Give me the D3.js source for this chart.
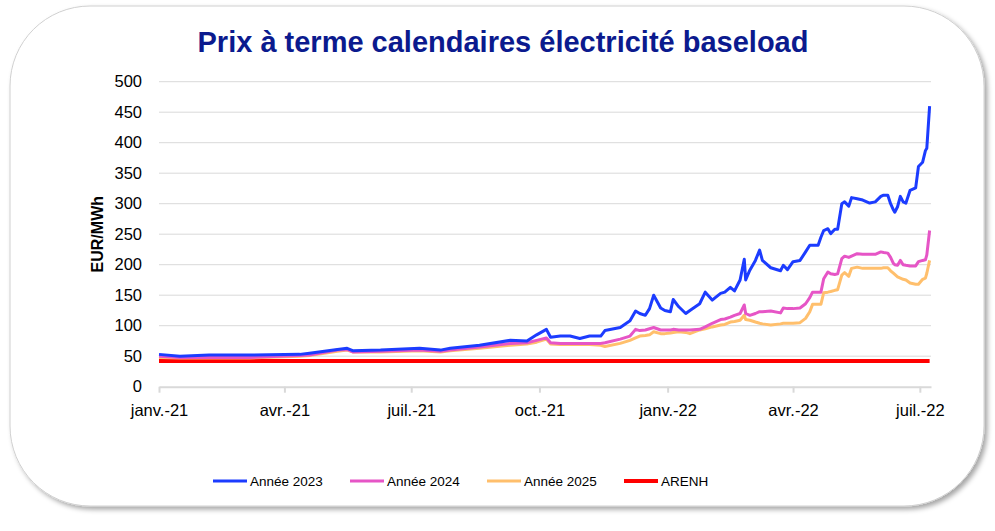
<!DOCTYPE html>
<html>
<head>
<meta charset="utf-8">
<script src="https://cdn.jsdelivr.net/npm/d3@7"></script>
<style>
  html, body { margin: 0; padding: 0; background: #fff; }
  svg { display: block; }
</style>
</head>
<body>
<svg id="chart" width="995" height="531"></svg>
<script>
// dates de cotation (échantillon)
const dates = [
  "2021-01-01","2021-01-16","2021-02-06","2021-03-07","2021-04-12","2021-04-19","2021-05-09","2021-05-16",
  "2021-05-20","2021-06-09","2021-07-07","2021-07-22","2021-07-29","2021-08-19","2021-09-10","2021-09-22",
  "2021-09-29","2021-10-06","2021-10-09","2021-10-16","2021-10-23","2021-10-30","2021-11-06","2021-11-14",
  "2021-11-17","2021-11-28","2021-12-05","2021-12-09","2021-12-12","2021-12-16","2021-12-19","2021-12-22",
  "2021-12-27","2021-12-30","2022-01-03","2022-01-05","2022-01-09","2022-01-14","2022-01-17","2022-01-24",
  "2022-01-28","2022-02-02","2022-02-08","2022-02-11","2022-02-15","2022-02-18","2022-02-22","2022-02-25",
  "2022-02-26","2022-03-01","2022-03-05","2022-03-08","2022-03-10","2022-03-16","2022-03-23","2022-03-25",
  "2022-03-28","2022-04-01","2022-04-06","2022-04-10","2022-04-13","2022-04-15","2022-04-19","2022-04-21",
  "2022-04-23","2022-04-26","2022-04-28","2022-05-01","2022-05-03","2022-05-06","2022-05-08","2022-05-11",
  "2022-05-13","2022-05-17","2022-05-21","2022-05-26","2022-05-30","2022-06-03","2022-06-05","2022-06-08",
  "2022-06-10","2022-06-12","2022-06-13","2022-06-15","2022-06-17","2022-06-19","2022-06-21","2022-06-24",
  "2022-06-28","2022-06-30","2022-07-03","2022-07-05","2022-07-06","2022-07-08"
];

const annee2023 = [
  53,50,52,52,53,55,61,63, 59,60,63,60,63,68,76,75,
  85,94,81,83,83,79,83,83, 92,97,108,124,120,117,128,150,
  129,125,123,143,131,120,125,136, 155,142,153,155,163,157,175,209,
  175,191,207,224,207,195,190,199, 192,205,207,221,232,232,232,245,
  256,259,251,258,258,300,303,296, 310,308,306,301,303,312,314,314,
  300,290,286,295,312,303,301,322, 326,361,368,387,391,460
];

const annee2024 = [
  50,48,48,48,51,52,60,61, 57,58,60,58,60,65,71,72,
  76,80,72,71,71,71,71,71, 72,78,83,94,92,93,95,97,
  93,93,93,94,93,93,93,94, 98,104,110,111,114,117,120,134,
  120,117,120,123,123,124,121,129, 128,128,129,136,146,155,155,155,
  177,188,185,184,185,210,214,212, 214,218,217,217,217,221,220,219,
  212,202,200,199,207,200,199,198, 198,205,207,208,216,256
];

const annee2025 = [
  48,47,47,47,50,51,58,60, 57,57,59,57,59,63,68,70,
  73,78,70,69,69,69,69,68, 66,71,76,80,83,84,85,90,
  87,87,88,89,90,89,87,93, 95,98,101,102,106,107,109,117,
  110,109,106,104,103,101,103,104, 104,104,105,112,123,135,135,135,
  154,155,156,158,159,183,187,181, 194,196,194,194,194,194,195,195,
  190,186,184,180,178,176,175,170, 168,168,176,178,186,207
];

const arenh = 42;

const seriesNames = ["Année 2023", "Année 2024", "Année 2025", "ARENH"];
const tickDates = ["2021-01-01","2021-04-01","2021-07-01","2021-10-01","2022-01-01","2022-04-01","2022-07-01"];
const tickLabels = ["janv.-21","avr.-21","juil.-21","oct.-21","janv.-22","avr.-22","juil.-22"];
const yTicks = [0,50,100,150,200,250,300,350,400,450,500];

const parse = d3.utcParse("%Y-%m-%d");
const svg = d3.select("#chart");
const width = 995, height = 531;
const margin = { top: 81.7, right: 64, bottom: 144.3, left: 159 };

// cadre arrondi avec ombre
const defs = svg.append("defs");
const f = defs.append("filter").attr("id", "ombre")
  .attr("x", "-5%").attr("y", "-5%").attr("width", "110%").attr("height", "115%");
f.append("feDropShadow").attr("dx", 3).attr("dy", 3).attr("stdDeviation", 2.5)
  .attr("flood-color", "#000").attr("flood-opacity", 0.35);

svg.append("rect")
  .attr("x", 10).attr("y", 6)
  .attr("width", 974).attr("height", 500)
  .attr("rx", 80).attr("ry", 80)
  .attr("fill", "#fff")
  .attr("stroke", "#d0d0d0")
  .attr("stroke-width", 1)
  .attr("filter", "url(#ombre)");

var x = d3.scaleUtc()
  .domain([parse("2021-01-01"), parse("2022-07-09")])
  .range([margin.left, width - margin.right]);

var y = d3.scaleLinear()
  .domain([0, 500])
  .range([height - margin.bottom, margin.top]);

var color = d3.scaleOrdinal()
  .domain(seriesNames)
  .range(["#1c3cff", "#e655c6", "#ffbf6c", "#ff0000"]);

// grille
svg.append("g")
  .selectAll("line")
  .data(yTicks.slice(1))
  .join("line")
  .attr("x1", margin.left).attr("x2", width - margin.right)
  .attr("y1", d => y(d)).attr("y2", d => y(d))
  .attr("stroke", "#d9d9d9").attr("stroke-width", 1);

// axe y
var yAxis = g => g
  .attr("transform", `translate(${margin.left},0)`)
  .call(d3.axisLeft(y).tickValues(yTicks).tickSize(0).tickPadding(17))
  .call(g => g.select(".domain").remove())
  .call(g => g.selectAll("text")
    .attr("font-family", "Liberation Sans, Arial, sans-serif")
    .attr("font-size", 16.5)
    .attr("fill", "#000"));
svg.append("g").call(yAxis);

// axe x
var xAxis = g => g
  .attr("transform", `translate(0,${y(0)})`)
  .call(d3.axisBottom(x)
    .tickValues(tickDates.map(parse))
    .tickFormat((d, i) => tickLabels[i])
    .tickSize(6).tickPadding(12).tickSizeOuter(0))
  .call(g => g.select(".domain").attr("stroke", "#d9d9d9").attr("stroke-width", 2))
  .call(g => g.selectAll(".tick line").attr("stroke", "#d9d9d9").attr("stroke-width", 2))
  .call(g => g.selectAll("text")
    .attr("font-family", "Liberation Sans, Arial, sans-serif")
    .attr("font-size", 16.5)
    .attr("fill", "#000"));
svg.append("g").call(xAxis);

// titre de l'axe y
svg.append("text")
  .attr("transform", `translate(103,${y(250)}) rotate(-90)`)
  .attr("text-anchor", "middle")
  .attr("font-family", "Liberation Sans, Arial, sans-serif")
  .attr("font-weight", "bold")
  .attr("font-size", 16)
  .text("EUR/MWh");

// titre
svg.append("text")
  .attr("x", 503).attr("y", 52)
  .attr("text-anchor", "middle")
  .attr("font-family", "Liberation Sans, Arial, sans-serif")
  .attr("font-weight", "bold")
  .attr("font-size", 29)
  .attr("fill", "#0b1a8e")
  .text("Prix à terme calendaires électricité baseload");

// courbes
const series = [
  { name: "Année 2023", values: annee2023 },
  { name: "Année 2024", values: annee2024 },
  { name: "Année 2025", values: annee2025 }
];

var line = d3.line()
  .x((d, i) => x(parse(dates[i])))
  .y(d => y(d))
  .curve(d3.curveLinear);

svg.append("line")
  .attr("x1", x(parse(dates[0]))).attr("x2", x(parse(dates[dates.length - 1])))
  .attr("y1", y(arenh)).attr("y2", y(arenh))
  .attr("stroke", color("ARENH")).attr("stroke-width", 4);

svg.append("g")
  .selectAll("path")
  .data(series.slice().reverse())
  .join("path")
  .attr("d", d => line(d.values))
  .attr("fill", "none")
  .attr("stroke", d => color(d.name))
  .attr("stroke-width", 3)
  .attr("stroke-linejoin", "round");

// légende
const legendX = [213, 350, 487, 624];
const lg = svg.append("g")
  .selectAll("g")
  .data(seriesNames)
  .join("g")
  .attr("transform", (d, i) => `translate(${legendX[i]},481)`);

lg.append("line")
  .attr("x1", 0).attr("x2", 34)
  .attr("stroke", d => color(d))
  .attr("stroke-width", d => d === "ARENH" ? 4 : 3);

lg.append("text")
  .attr("x", 37)
  .attr("dy", "0.35em")
  .attr("font-family", "Liberation Sans, Arial, sans-serif")
  .attr("font-size", 13.5)
  .attr("fill", "#000")
  .text(d => d);
</script>
</body>
</html>
